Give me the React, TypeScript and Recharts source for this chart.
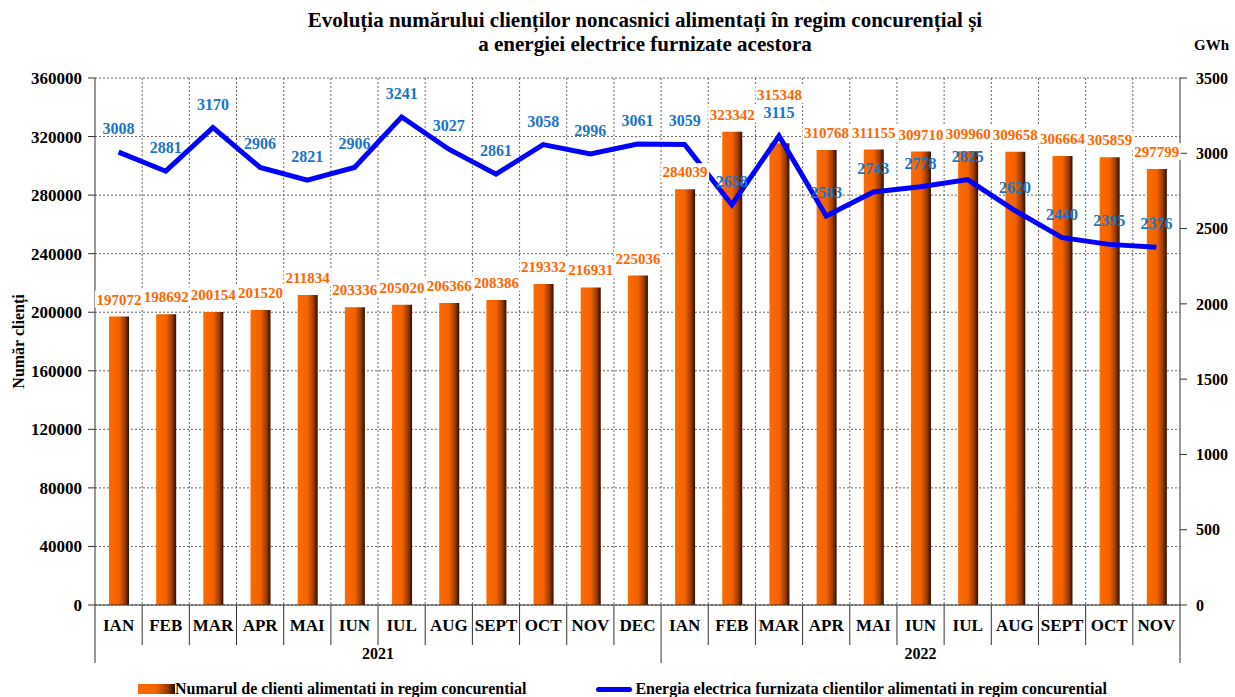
import React from "react";
import {
  Bar,
  CartesianGrid,
  ComposedChart,
  LabelList,
  Line,
  XAxis,
  YAxis,
} from "recharts";

const months2021 = ["IAN", "FEB", "MAR", "APR", "MAI", "IUN", "IUL", "AUG", "SEPT", "OCT", "NOV", "DEC"];
const months2022 = ["IAN", "FEB", "MAR", "APR", "MAI", "IUN", "IUL", "AUG", "SEPT", "OCT", "NOV"];
const years = ["2021", "2022"];

const clients = [
  197072, 198692, 200154, 201520, 211834, 203336, 205020, 206366, 208386, 219332, 216931, 225036,
  284039, 323342, 315348, 310768, 311155, 309710, 309960, 309658, 306664, 305859, 297799,
];
const energy = [
  3008, 2881, 3170, 2906, 2821, 2906, 3241, 3027, 2861, 3058, 2996, 3061,
  3059, 2658, 3115, 2583, 2743, 2778, 2825, 2620, 2440, 2395, 2376,
];

const leftTicks = [0, 40000, 80000, 120000, 160000, 200000, 240000, 280000, 320000, 360000];
const rightTicks = [0, 500, 1000, 1500, 2000, 2500, 3000, 3500];
const LEFT_MAX = 360000;
const RIGHT_MAX = 3500;

const data = [...months2021, ...months2022].map((m, i) => ({
  month: m,
  year: i < months2021.length ? years[0] : years[1],
  clients: clients[i],
  energy: energy[i],
}));

const FONT = '"Liberation Serif", "Times New Roman", serif';
const W = 1235;
const H = 697;
const PLOT_LEFT = 95;
const PLOT_RIGHT = 1180;
const PLOT_TOP = 78;
const PLOT_BOTTOM = 605;
const BAND = (PLOT_RIGHT - PLOT_LEFT) / data.length;
const ORANGE = "#FF6600";
const BLUE_TXT = "#1874CD";
const LINE_LABEL_OFFSET = 18;

function MonthTick(props: any) {
  const { x, y, payload } = props;
  const i = payload.index;
  const half = BAND / 2;
  const firstOfYear = i === 0 || i === months2021.length;
  const lastOfYear = i === months2021.length - 1 || i === data.length - 1;
  const count = i === 0 ? months2021.length : months2022.length;
  return (
    <g>
      <text
        x={x}
        y={y + 26}
        textAnchor="middle"
        fontFamily={FONT}
        fontWeight="bold"
        fontSize={17}
        fill="#000"
      >
        {payload.value}
      </text>
      <line x1={x + half} x2={x + half} y1={y} y2={y + (lastOfYear ? 58 : 40)} stroke="#333" />
      {i === 0 && <line x1={x - half} x2={x - half} y1={y} y2={y + 58} stroke="#333" />}
      {firstOfYear && (
        <text
          x={x - half + (count * BAND) / 2}
          y={y + 54}
          textAnchor="middle"
          fontFamily={FONT}
          fontWeight="bold"
          fontSize={16}
          fill="#000"
        >
          {i === 0 ? years[0] : years[1]}
        </text>
      )}
    </g>
  );
}

// bar value label; lifted above the line label when both would collide
function BarValue(props: any) {
  const { x, y, width, value, index } = props;
  const cx = x + width / 2;
  let ty = y - 12;
  const lineY = PLOT_BOTTOM - (energy[index] / RIGHT_MAX) * (PLOT_BOTTOM - PLOT_TOP);
  const lineLabelY = lineY - LINE_LABEL_OFFSET;
  if (Math.abs(ty - lineLabelY) < 18) ty = lineLabelY - 18;
  return (
    <g>
      <rect x={cx - 24} y={ty - 14} width={48} height={17} fill="#fff" />
      <text
        x={cx}
        y={ty}
        textAnchor="middle"
        fontFamily={FONT}
        fontWeight="bold"
        fontSize={15}
        fill={ORANGE}
      >
        {value}
      </text>
    </g>
  );
}

export default function App() {
  return (
    <div
      style={{
        position: "absolute",
        top: 0,
        left: 0,
        width: W,
        height: H,
        background: "#fff",
        fontFamily: FONT,
        overflow: "hidden",
      }}
    >
      <div
        style={{
          position: "absolute",
          top: 8,
          left: 0,
          width: 1290,
          textAlign: "center",
          fontWeight: "bold",
          fontSize: 21,
          lineHeight: "24px",
        }}
      >
        Evoluția numărului clienților noncasnici alimentați în regim concurențial și
        <br />a energiei electrice furnizate acestora
      </div>
      <div style={{ position: "absolute", top: 37, left: 1194, fontWeight: "bold", fontSize: 15, whiteSpace: "nowrap" }}>
        GWh
      </div>

      <ComposedChart
        width={W}
        height={H}
        data={data}
        margin={{ top: PLOT_TOP, right: 5, bottom: H - PLOT_BOTTOM - 60, left: 10 }}
        barCategoryGap={0}
      >
        <defs>
          <linearGradient id="barGrad" x1="0" y1="0" x2="1" y2="0">
            <stop offset="0%" stopColor="#ff6a00" />
            <stop offset="50%" stopColor="#f26200" />
            <stop offset="80%" stopColor="#9a3a00" />
            <stop offset="100%" stopColor="#2a0e00" />
          </linearGradient>
        </defs>
        <CartesianGrid
          yAxisId="left"
          stroke="#666"
          strokeDasharray="2 2"
          verticalCoordinatesGenerator={({ offset }: any) =>
            data.map((_, i) => offset.left + i * (offset.width / data.length)).slice(1)
          }
        />
        <XAxis
          dataKey="month"
          height={60}
          interval={0}
          tickSize={0}
          tickMargin={0}
          tickLine={false}
          stroke="#333"
          tick={<MonthTick />}
        />
        <YAxis
          yAxisId="left"
          width={85}
          domain={[0, LEFT_MAX]}
          ticks={leftTicks}
          interval={0}
          stroke="#333"
          tickSize={7}
          tickMargin={6}
          tick={{ fontFamily: FONT, fontWeight: "bold", fontSize: 17, fill: "#000" }}
          label={{
            value: "Număr clienți",
            angle: -90,
            position: "insideLeft",
            offset: 0,
            dx: 8,
            style: { fontFamily: FONT, fontWeight: "bold", fontSize: 16, fill: "#000", textAnchor: "middle" },
          }}
        />
        <YAxis
          yAxisId="right"
          orientation="right"
          width={50}
          domain={[0, RIGHT_MAX]}
          ticks={rightTicks}
          interval={0}
          stroke="#333"
          tickSize={7}
          tickMargin={9}
          tick={{ fontFamily: FONT, fontWeight: "bold", fontSize: 16, fill: "#000", textAnchor: "start" }}
        />
        <Bar yAxisId="left" dataKey="clients" fill="url(#barGrad)" barSize={20} isAnimationActive={false}>
          <LabelList dataKey="clients" content={<BarValue />} />
        </Bar>
        <Line
          yAxisId="right"
          dataKey="energy"
          stroke="#0000FF"
          strokeWidth={5}
          dot={false}
          isAnimationActive={false}
        >
          <LabelList
            dataKey="energy"
            position="top"
            offset={LINE_LABEL_OFFSET}
            style={{ fontFamily: FONT, fontWeight: "bold", fontSize: 16, fill: BLUE_TXT }}
          />
        </Line>
      </ComposedChart>

      <div
        style={{
          position: "absolute",
          top: 681,
          left: 138,
          display: "flex",
          alignItems: "center",
          fontWeight: "bold",
          fontSize: 16,
          lineHeight: "16px",
          whiteSpace: "nowrap",
        }}
      >
        <span
          style={{
            display: "inline-block",
            width: 37,
            height: 10,
            background: "linear-gradient(to right, #ff6a00 0%, #f26200 50%, #9a3a00 80%, #2a0e00 100%)",
          }}
        />
        <span>Numarul de clienti alimentati in regim concurential</span>
        <span style={{ display: "inline-block", width: 70 }} />
        <span style={{ display: "inline-block", width: 36, height: 5, background: "#0000FF", borderRadius: 3 }} />
        <span style={{ marginLeft: 3 }}>Energia electrica furnizata clientilor alimentati in regim concurential</span>
      </div>
    </div>
  );
}
